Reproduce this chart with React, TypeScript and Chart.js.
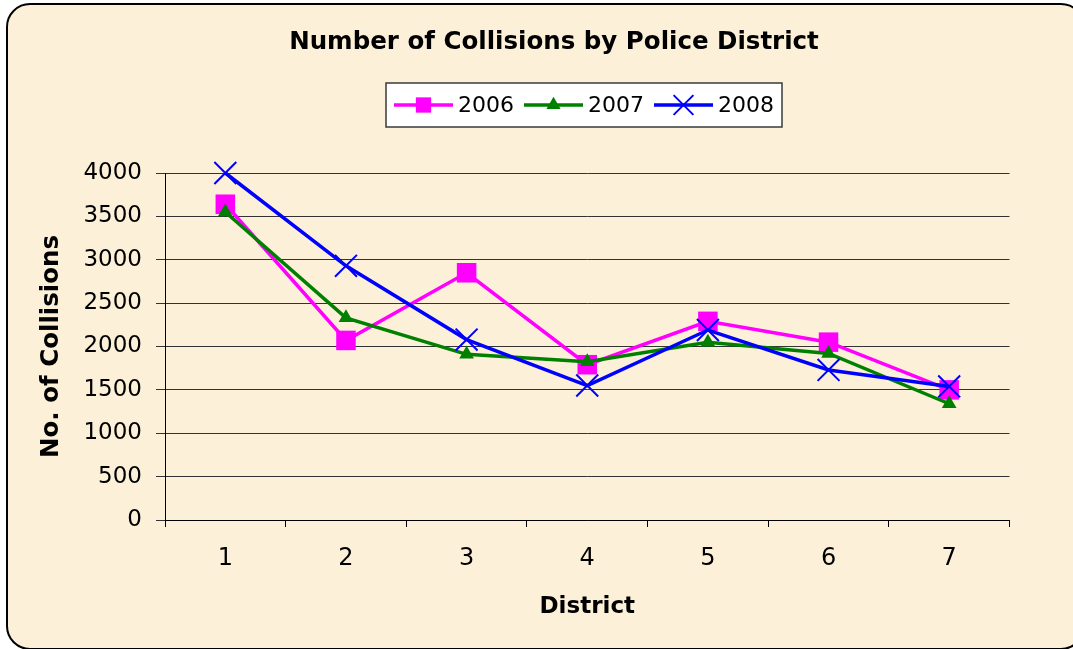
import React, { useEffect, useRef } from 'react';
import { Chart, registerables } from 'chart.js';

Chart.register(...registerables);

const categories = ['1', '2', '3', '4', '5', '6', '7'];
const seriesLabels = ['2006', '2007', '2008'];
const values2006 = [3640, 2070, 2850, 1790, 2290, 2050, 1500];
const values2007 = [3550, 2330, 1910, 1825, 2050, 1920, 1340];
const values2008 = [4000, 2930, 2080, 1550, 2190, 1730, 1540];
const yTickValues = [0, 500, 1000, 1500, 2000, 2500, 3000, 3500, 4000];
const chartTitle = 'Number of Collisions by Police District';
const xAxisTitle = 'District';
const yAxisTitle = 'No. of Collisions';

const FONT = 'DejaVu Sans';

function drawMarker(ctx: CanvasRenderingContext2D, style: string, x: number, y: number, r: number, color: string, lw: number) {
  ctx.save();
  ctx.fillStyle = color;
  ctx.strokeStyle = color;
  ctx.lineWidth = lw;
  ctx.beginPath();
  if (style === 'rect') {
    const s = r * Math.SQRT1_2;
    ctx.rect(x - s, y - s, 2 * s, 2 * s);
    ctx.fill();
  } else if (style === 'triangle') {
    const w = r * Math.sin(Math.PI * 2 / 3);
    ctx.moveTo(x, y - r);
    ctx.lineTo(x + w, y + r / 2);
    ctx.lineTo(x - w, y + r / 2);
    ctx.closePath();
    ctx.fill();
  } else if (style === 'crossRot') {
    const d = r * Math.SQRT1_2;
    ctx.moveTo(x - d, y - d);
    ctx.lineTo(x + d, y + d);
    ctx.moveTo(x - d, y + d);
    ctx.lineTo(x + d, y - d);
    ctx.stroke();
  }
  ctx.restore();
}

const legendMarkerRadius: Record<string, number> = { rect: 10.8, triangle: 8.2, crossRot: 14 };

const titleLegendPlugin = {
  id: 'titleLegend',
  afterDraw(chart: any) {
    const ctx: CanvasRenderingContext2D = chart.ctx;
    ctx.save();
    // title
    ctx.fillStyle = '#000';
    ctx.font = `bold 24.5px "${FONT}"`;
    ctx.textAlign = 'center';
    ctx.textBaseline = 'middle';
    ctx.fillText(chartTitle, 554, 43);

    // legend box
    const bx = 386, by = 83, bw = 396, bh = 44;
    ctx.fillStyle = '#ffffff';
    ctx.fillRect(bx, by, bw, bh);
    ctx.strokeStyle = '#3a3a3a';
    ctx.lineWidth = 1.5;
    ctx.strokeRect(bx, by, bw, bh);

    const cy = by + bh / 2;
    chart.data.datasets.forEach((ds: any, i: number) => {
      const left = bx + 8 + i * 130;
      ctx.strokeStyle = ds.borderColor;
      ctx.lineWidth = ds.borderWidth;
      ctx.beginPath();
      ctx.moveTo(left, cy);
      ctx.lineTo(left + 59, cy);
      ctx.stroke();
      drawMarker(ctx, ds.pointStyle, left + 29.5, cy, legendMarkerRadius[ds.pointStyle], ds.borderColor, ds.pointBorderWidth || 2);
      ctx.fillStyle = '#000';
      ctx.font = `22px "${FONT}"`;
      ctx.textAlign = 'left';
      ctx.textBaseline = 'middle';
      ctx.fillText(ds.label, left + 64, cy + 1);
    });
    ctx.restore();
  },
};

export default function App() {
  const canvasRef = useRef<HTMLCanvasElement | null>(null);

  useEffect(() => {
    if (!canvasRef.current) return;
    const chart = new Chart(canvasRef.current, {
      type: 'line',
      data: {
        labels: categories,
        datasets: [
          {
            label: seriesLabels[0],
            data: values2006,
            borderColor: '#FF00FF',
            backgroundColor: '#FF00FF',
            borderWidth: 3.5,
            pointStyle: 'rect',
            pointRadius: 13.8,
            pointBorderWidth: 0,
            pointBackgroundColor: '#FF00FF',
            pointBorderColor: '#FF00FF',
            tension: 0,
            clip: false,
            order: 3,
          },
          {
            label: seriesLabels[1],
            data: values2007,
            borderColor: '#008000',
            backgroundColor: '#008000',
            borderWidth: 3.5,
            pointStyle: 'triangle',
            pointRadius: 8.5,
            pointBorderWidth: 0,
            pointBackgroundColor: '#008000',
            pointBorderColor: '#008000',
            tension: 0,
            clip: false,
            order: 2,
          },
          {
            label: seriesLabels[2],
            data: values2008,
            borderColor: '#0000FF',
            backgroundColor: '#0000FF',
            borderWidth: 3.5,
            pointStyle: 'crossRot',
            pointRadius: 15.5,
            pointBorderWidth: 2,
            pointBackgroundColor: '#0000FF',
            pointBorderColor: '#0000FF',
            tension: 0,
            clip: false,
            order: 1,
          },
        ] as any,
      },
      options: {
        animation: false,
        responsive: false,
        devicePixelRatio: 1,
        layout: { padding: { left: 0, top: 173, right: 63.5, bottom: 0 } },
        plugins: {
          legend: { display: false },
          title: { display: false },
          tooltip: { enabled: false },
        },
        scales: {
          x: {
            type: 'category',
            offset: true,
            grid: { offset: true, drawOnChartArea: false, drawTicks: true, tickLength: 7, color: '#000', lineWidth: 1 },
            border: { color: '#000', width: 1 },
            ticks: { color: '#000', font: { family: FONT, size: 24 }, padding: 17, maxRotation: 0 },
            title: {
              display: true,
              text: xAxisTitle,
              color: '#000',
              font: { family: FONT, size: 23, weight: 'bold' },
              padding: { top: 0, bottom: 28 },
            },
            afterFit: (scale: any) => { scale.height = 129; },
          },
          y: {
            min: 0,
            max: 4000,
            afterBuildTicks: (scale: any) => { scale.ticks = yTickValues.map((v) => ({ value: v })); },
            grid: { color: '#333333', lineWidth: 1, tickLength: 9, drawTicks: true },
            border: { color: '#000', width: 1 },
            ticks: {
              color: '#000',
              font: { family: FONT, size: 23 },
              padding: 14,
              callback: (value: any) => String(value),
            },
            title: {
              display: true,
              text: yAxisTitle,
              color: '#000',
              font: { family: FONT, size: 24.5, weight: 'bold' },
              padding: { top: 37, bottom: 0 },
            },
            afterFit: (scale: any) => { scale.width = 165; },
          },
        },
      } as any,
      plugins: [titleLegendPlugin],
    });
    return () => chart.destroy();
  }, []);

  return (
    <div>
      <div
        style={{
          position: 'fixed',
          left: 6,
          top: 3,
          width: 1079,
          height: 647,
          boxSizing: 'border-box',
          border: '2px solid #000',
          borderRadius: 24,
          background: '#FCF1D8',
        }}
      />
      <canvas
        ref={canvasRef}
        width={1073}
        height={649}
        style={{ position: 'fixed', left: 0, top: 0, width: 1073, height: 649, display: 'block' }}
      />
    </div>
  );
}
